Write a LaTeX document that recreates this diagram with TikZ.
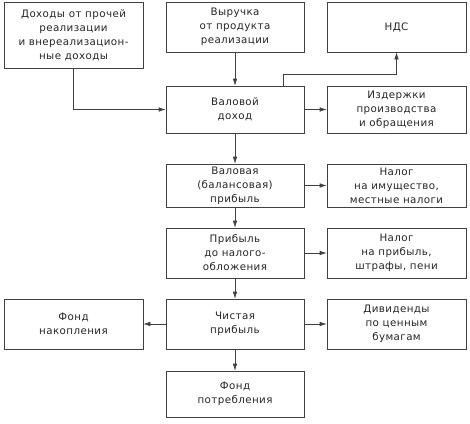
\documentclass[tikz,border=0pt]{standalone}
\usepackage{fontspec}
\setmainfont[LetterSpace=4]{DejaVu Sans}
\usepackage{tikz}
\usetikzlibrary{
  arrows.meta,              % 箭头样式
  calc,                     % 坐标计算
  positioning               % 节点相对定位
}
\tikzset{
  box/.style={
    draw=black!75,
    line width=0.6pt,
    rectangle,
    align=center,
    inner sep=2pt,
    text=black!85,
    font=\fontsize{10.3}{14}\selectfont
  },
  link/.style={
    -{Latex[length=7pt,width=4.5pt]},
    line width=0.6pt,
    color=black!75
  }
}

\begin{document}
\begin{tikzpicture}[x=1pt, y=1pt] % 整体思路：中间一列为利润的形成过程，右侧为扣除项，左侧为其他收入与积累
  \useasboundingbox (0,0) rectangle (470,-423); % 固定画面大小

  % 第一行
  \node[box, minimum width=139pt, minimum height=66pt] (income) at (73.5,-35) {Доходы от прочей\\реализации\\и внереализацион-\\ные доходы}; % 其他收入
  \node[box, minimum width=138pt, minimum height=50pt] (revenue) at (235,-27) {Выручка\\от продукта\\реализации}; % 销售收入
  \node[box, minimum width=139pt, minimum height=50pt] (vat) at (396.5,-27) {НДС}; % 增值税

  % 中间一列
  \node[box, minimum width=138pt, minimum height=47pt] (gross) at (235,-109.5) {Валовой\\доход}; % 总收入
  \node[box, minimum width=138pt, minimum height=43pt] (balance) at (235,-185.5) {Валовая\\(балансовая)\\прибыль}; % 总利润
  \node[box, minimum width=138pt, minimum height=50pt] (pretax) at (235,-253) {Прибыль\\до налого-\\обложения}; % 税前利润
  \node[box, minimum width=138pt, minimum height=50pt] (net) at (235,-324) {Чистая\\прибыль}; % 净利润
  \node[box, minimum width=138pt, minimum height=46pt] (consum) at (235,-394) {Фонд\\потребления}; % 消费基金

  % 右侧扣除项
  \node[box, minimum width=139pt, minimum height=47pt] (costs) at (396.5,-109.5) {Издержки\\производства\\и обращения}; % 成本
  \node[box, minimum width=139pt, minimum height=43pt] (proptax) at (396.5,-185.5) {Налог\\на имущество,\\местные налоги}; % 财产税
  \node[box, minimum width=139pt, minimum height=50pt] (profittax) at (396.5,-253) {Налог\\на прибыль,\\штрафы, пени}; % 所得税
  \node[box, minimum width=139pt, minimum height=50pt] (dividends) at (396.5,-324) {Дивиденды\\по ценным\\бумагам}; % 股息

  % 左侧
  \node[box, minimum width=139pt, minimum height=50pt] (accum) at (73.5,-324) {Фонд\\накопления}; % 积累基金

  % 连线
  \draw[link] (revenue) -- (gross);
  \draw[link] (income.south) |- (gross.west);
  \draw[link] ([xshift=48pt]gross.north) |- ([yshift=-22pt]vat.south) -- (vat.south); % 折线通向增值税
  \draw[link] (gross) -- (costs);
  \draw[link] (gross) -- (balance);
  \draw[link] (balance) -- (proptax);
  \draw[link] (balance) -- (pretax);
  \draw[link] (pretax) -- (profittax);
  \draw[link] (pretax) -- (net);
  \draw[link] (net) -- (dividends);
  \draw[link] (net) -- (accum);
  \draw[link] (net) -- (consum);

\end{tikzpicture}
\end{document}
